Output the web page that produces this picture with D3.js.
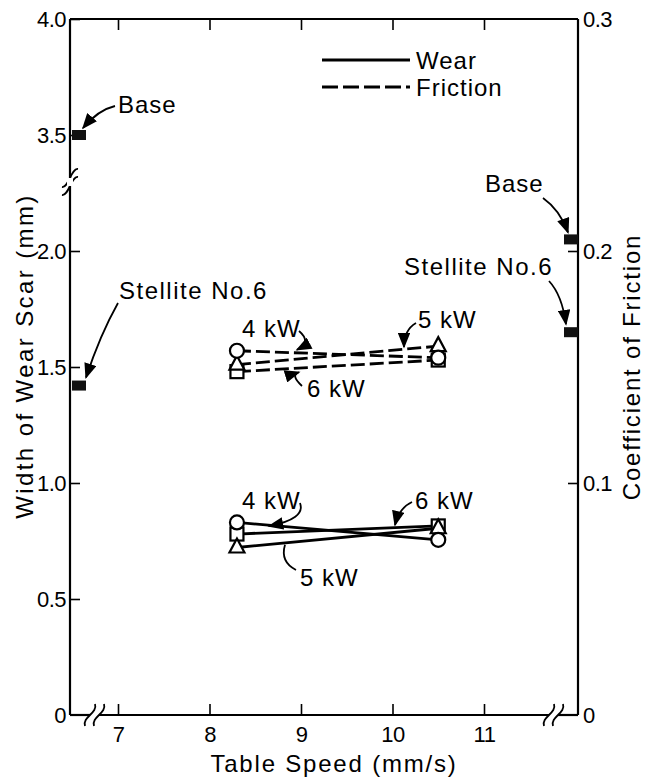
<!DOCTYPE html>
<html>
<head>
<meta charset="utf-8">
<script src="https://cdn.jsdelivr.net/npm/d3@7"></script>
<style>
  html, body { margin: 0; padding: 0; background: #fff; }
  text { font-family: "Liberation Sans", Arial, sans-serif; fill: #000; }
</style>
</head>
<body>
<svg id="chart" width="646" height="784"></svg>
<script>
// ---- data ----
const speeds = [8.3, 10.5];                 // table speed, mm/s
const powerLevels = ["4 kW", "5 kW", "6 kW"];
const wear4kW = [0.83, 0.755];              // width of wear scar, mm
const wear5kW = [0.722, 0.805];
const wear6kW = [0.78, 0.815];
const friction4kW = [0.157, 0.154];         // coefficient of friction
const friction5kW = [0.151, 0.159];
const friction6kW = [0.148, 0.153];
const referenceMaterials = ["Base", "Stellite No.6"];
const referenceWear = [3.5, 1.42];
const referenceFriction = [0.205, 0.165];
const speedTicks = [7, 8, 9, 10, 11];
const wearTicks = [0, 0.5, 1.0, 1.5, 2.0, 3.5, 4.0];
const wearTickLabels = ["0", "0.5", "1.0", "1.5", "2.0", "3.5", "4.0"];
const frictionTicks = [0, 0.1, 0.2, 0.3];
const frictionTickLabels = ["0", "0.1", "0.2", "0.3"];

// ---- frame ----
const svg = d3.select("#chart");
const L = 70, R = 578, T = 19, B = 715;
const unit = (B - T) / 3;                    // 0.1 friction == 1.0 mm wear

const x = d3.scaleLinear().domain([7, 11]).range([118, 484]);
// wear axis is broken between 2.0 and 3.0 mm
const yWear = d3.scaleLinear().domain([0, 2, 3, 4]).range([B, B - 2 * unit, T + unit, T]);
const yFric = d3.scaleLinear().domain([0, 0.3]).range([B, T]);

const FS = 24;        // annotation lettering
const TS = 22;        // tick lettering

// ---- axes ----
const axisStyle = g => {
  g.select(".domain").remove();
  g.selectAll(".tick line").attr("stroke", "#000").attr("stroke-width", 1.6);
  g.selectAll(".tick text").attr("font-size", TS).attr("letter-spacing", -0.5)
    .attr("font-family", "Liberation Sans, Arial, sans-serif").attr("fill", "#000");
};

svg.append("g").attr("transform", `translate(${L},0)`)
  .call(d3.axisLeft(yWear).tickValues(wearTicks)
    .tickFormat((d, i) => wearTickLabels[i]).tickSizeInner(-10).tickSizeOuter(0).tickPadding(4))
  .call(axisStyle)
  .call(g => g.selectAll(".tick").filter(d => d === 0).select("line").remove());

svg.append("g").attr("transform", `translate(${R},0)`)
  .call(d3.axisRight(yFric).tickValues(frictionTicks)
    .tickFormat((d, i) => frictionTickLabels[i]).tickSizeInner(-10).tickSizeOuter(0).tickPadding(5))
  .call(axisStyle)
  .call(g => g.selectAll(".tick").filter(d => d === 0 || d === 0.3).select("line").remove());

svg.append("g").attr("transform", `translate(0,${B})`)
  .call(d3.axisBottom(x).tickValues(speedTicks).tickFormat(d3.format("d"))
    .tickSizeInner(-11).tickSizeOuter(0).tickPadding(11))
  .call(axisStyle);

svg.append("g").attr("transform", `translate(0,${T})`)
  .call(d3.axisTop(x).tickValues(speedTicks).tickFormat("")
    .tickSizeInner(-11).tickSizeOuter(0))
  .call(axisStyle);

// frame lines
const frame = svg.append("g").attr("stroke", "#000").attr("stroke-width", 2.2).attr("fill", "none");
frame.append("line").attr("x1", L).attr("x2", R).attr("y1", T).attr("y2", T);
frame.append("line").attr("x1", L).attr("x2", L).attr("y1", T).attr("y2", B);
frame.append("line").attr("x1", R).attr("x2", R).attr("y1", T).attr("y2", B);
// bottom axis in three pieces around the breaks
const breaksX = [[90, 99], [549, 558]];
frame.append("line").attr("x1", L).attr("x2", breaksX[0][0]).attr("y1", B).attr("y2", B);
frame.append("line").attr("x1", breaksX[0][1]).attr("x2", breaksX[1][0]).attr("y1", B).attr("y2", B);
frame.append("line").attr("x1", breaksX[1][1]).attr("x2", R).attr("y1", B).attr("y2", B);

const sCurve = (cx, cy) =>
  `M${cx - 5},${cy + 11} C${cx - 8},${cy + 2} ${cx + 8},${cy - 2} ${cx + 5},${cy - 11}`;
breaksX.flat().forEach(bx => frame.append("path").attr("d", sCurve(bx, B)).attr("stroke-width", 1.8));

// wear axis break mark
const brkY = 182;
svg.append("rect").attr("x", L - 3).attr("y", brkY - 4).attr("width", 6).attr("height", 8).attr("fill", "#fff");
const hCurve = (cx, cy) =>
  `M${cx - 8},${cy + 9} C${cx - 1},${cy + 10} ${cx + 1},${cy - 10} ${cx + 8},${cy - 9}`;
frame.append("path").attr("d", hCurve(L, brkY - 4)).attr("stroke-width", 1.8);
frame.append("path").attr("d", hCurve(L, brkY + 4)).attr("stroke-width", 1.8);

// ---- axis titles ----
const titleAttrs = (s, sp) => s.attr("text-anchor", "middle").attr("font-size", FS).attr("letter-spacing", sp);
svg.append("text").attr("transform", `translate(334,772)`).call(titleAttrs, 1.8).text("Table Speed (mm/s)");
svg.append("text").attr("transform", `translate(33,356) rotate(-90)`).call(titleAttrs, 2.4).text("Width of Wear Scar (mm)");
svg.append("text").attr("transform", `translate(640,367) rotate(-90)`).call(titleAttrs, 1.8).text("Coefficient of Friction");

// ---- legend ----
const lg = svg.append("g");
lg.append("line").attr("x1", 322).attr("x2", 410).attr("y1", 60).attr("y2", 60)
  .attr("stroke", "#000").attr("stroke-width", 2.8);
lg.append("text").attr("x", 416).attr("y", 69).attr("font-size", FS).attr("letter-spacing", 1).text("Wear");
lg.append("line").attr("x1", 322).attr("x2", 410).attr("y1", 87).attr("y2", 87)
  .attr("stroke", "#000").attr("stroke-width", 2.8).attr("stroke-dasharray", "16,5");
lg.append("text").attr("x", 416).attr("y", 96).attr("font-size", FS).attr("letter-spacing", 1).text("Friction");

// ---- series ----
const wearSeries = [wear4kW, wear5kW, wear6kW];
const frictionSeries = [friction4kW, friction5kW, friction6kW];
const shapes = { "4 kW": "circle", "5 kW": "triangle", "6 kW": "square" };

const line = y => d3.line().x((d, i) => x(speeds[i])).y(d => y(d));
const plot = svg.append("g");

wearSeries.forEach(vals => plot.append("path").datum(vals).attr("d", line(yWear))
  .attr("fill", "none").attr("stroke", "#000").attr("stroke-width", 2.8));
frictionSeries.forEach(vals => plot.append("path").datum(vals).attr("d", line(yFric))
  .attr("fill", "none").attr("stroke", "#000").attr("stroke-width", 2.8).attr("stroke-dasharray", "14,5"));

function marker(g, shape, cx, cy) {
  const s = g.append("g").attr("fill", "#fff").attr("stroke", "#000").attr("stroke-width", 2.2);
  if (shape === "circle") s.append("circle").attr("cx", cx).attr("cy", cy).attr("r", 7);
  else if (shape === "square") s.append("rect").attr("x", cx - 6.5).attr("y", cy - 6.5).attr("width", 13).attr("height", 13);
  else s.append("path").attr("d", `M${cx},${cy - 9} L${cx + 7.5},${cy + 5} L${cx - 7.5},${cy + 5} Z`);
}
[2, 1, 0].forEach(k => {
  speeds.forEach((sp, i) => {
    marker(plot, shapes[powerLevels[k]], x(sp), yWear(wearSeries[k][i]));
    marker(plot, shapes[powerLevels[k]], x(sp), yFric(frictionSeries[k][i]));
  });
});

// reference materials, drawn against the frame edges
referenceWear.forEach(v => plot.append("rect").attr("x", L + 2).attr("y", yWear(v) - 5)
  .attr("width", 14).attr("height", 10).attr("fill", "#111"));
referenceFriction.forEach(v => plot.append("rect").attr("x", R - 14).attr("y", yFric(v) - 5)
  .attr("width", 14).attr("height", 10).attr("fill", "#111"));

// ---- annotations ----
svg.append("defs").append("marker").attr("id", "head")
  .attr("viewBox", "0 0 10 8").attr("refX", 9).attr("refY", 4)
  .attr("markerWidth", 9).attr("markerHeight", 7).attr("orient", "auto")
  .append("path").attr("d", "M0,0 L10,4 L0,8 Z").attr("fill", "#000");

const ann = svg.append("g");
function label(txt, tx, ty, anchor, sp) {
  ann.append("text").attr("x", tx).attr("y", ty).attr("font-size", FS).attr("letter-spacing", sp || 1)
    .attr("text-anchor", anchor || "start").text(txt);
}
function leader(d, head) {
  const p = ann.append("path").attr("d", d).attr("fill", "none").attr("stroke", "#000").attr("stroke-width", 1.8);
  if (head !== false) p.attr("marker-end", "url(#head)");
}

// reference materials
const bl = [L + 9, yWear(referenceWear[0])];
label(referenceMaterials[0], 118, 113);
leader(`M115,106 Q98,110 ${bl[0] + 4},${bl[1] - 7}`);
const sl = [L + 9, yWear(referenceWear[1])];
label(referenceMaterials[1], 119, 299, "start", 1.5);
leader(`M118,303 Q100,335 ${sl[0] + 7},${sl[1] - 8}`);
const br = [R - 7, yFric(referenceFriction[0])];
label(referenceMaterials[0], 485, 192);
leader(`M543,198 Q560,210 ${br[0] - 3},${br[1] - 7}`);
const sr = [R - 7, yFric(referenceFriction[1])];
label(referenceMaterials[1], 553, 275, "end", 1.5);
leader(`M549,281 Q562,295 ${sr[0] - 5},${sr[1] - 8}`);

// friction power labels
label(powerLevels[0], 242, 337);
leader(`M299,331 Q312,342 297,${yFric(0.1566) - 2}`);
label(powerLevels[2], 307, 397);
leader(`M302,386 Q290,375 299,${yFric(0.1486) + 2}`);
label(powerLevels[1], 418, 328);
leader(`M416,323 Q404,330 404,${yFric(0.1578) - 2}`);

// wear power labels
label(powerLevels[0], 242, 509);
leader(`M300,503 Q306,519 269,${yWear(0.81) - 1}`);
label(powerLevels[2], 415, 509);
leader(`M412,502 Q399,508 395,${yWear(0.81) - 2}`);
label(powerLevels[1], 300, 586);
leader(`M296,570 Q280,562 285,${yWear(0.742) + 2}`, false);
</script>
</body>
</html>
